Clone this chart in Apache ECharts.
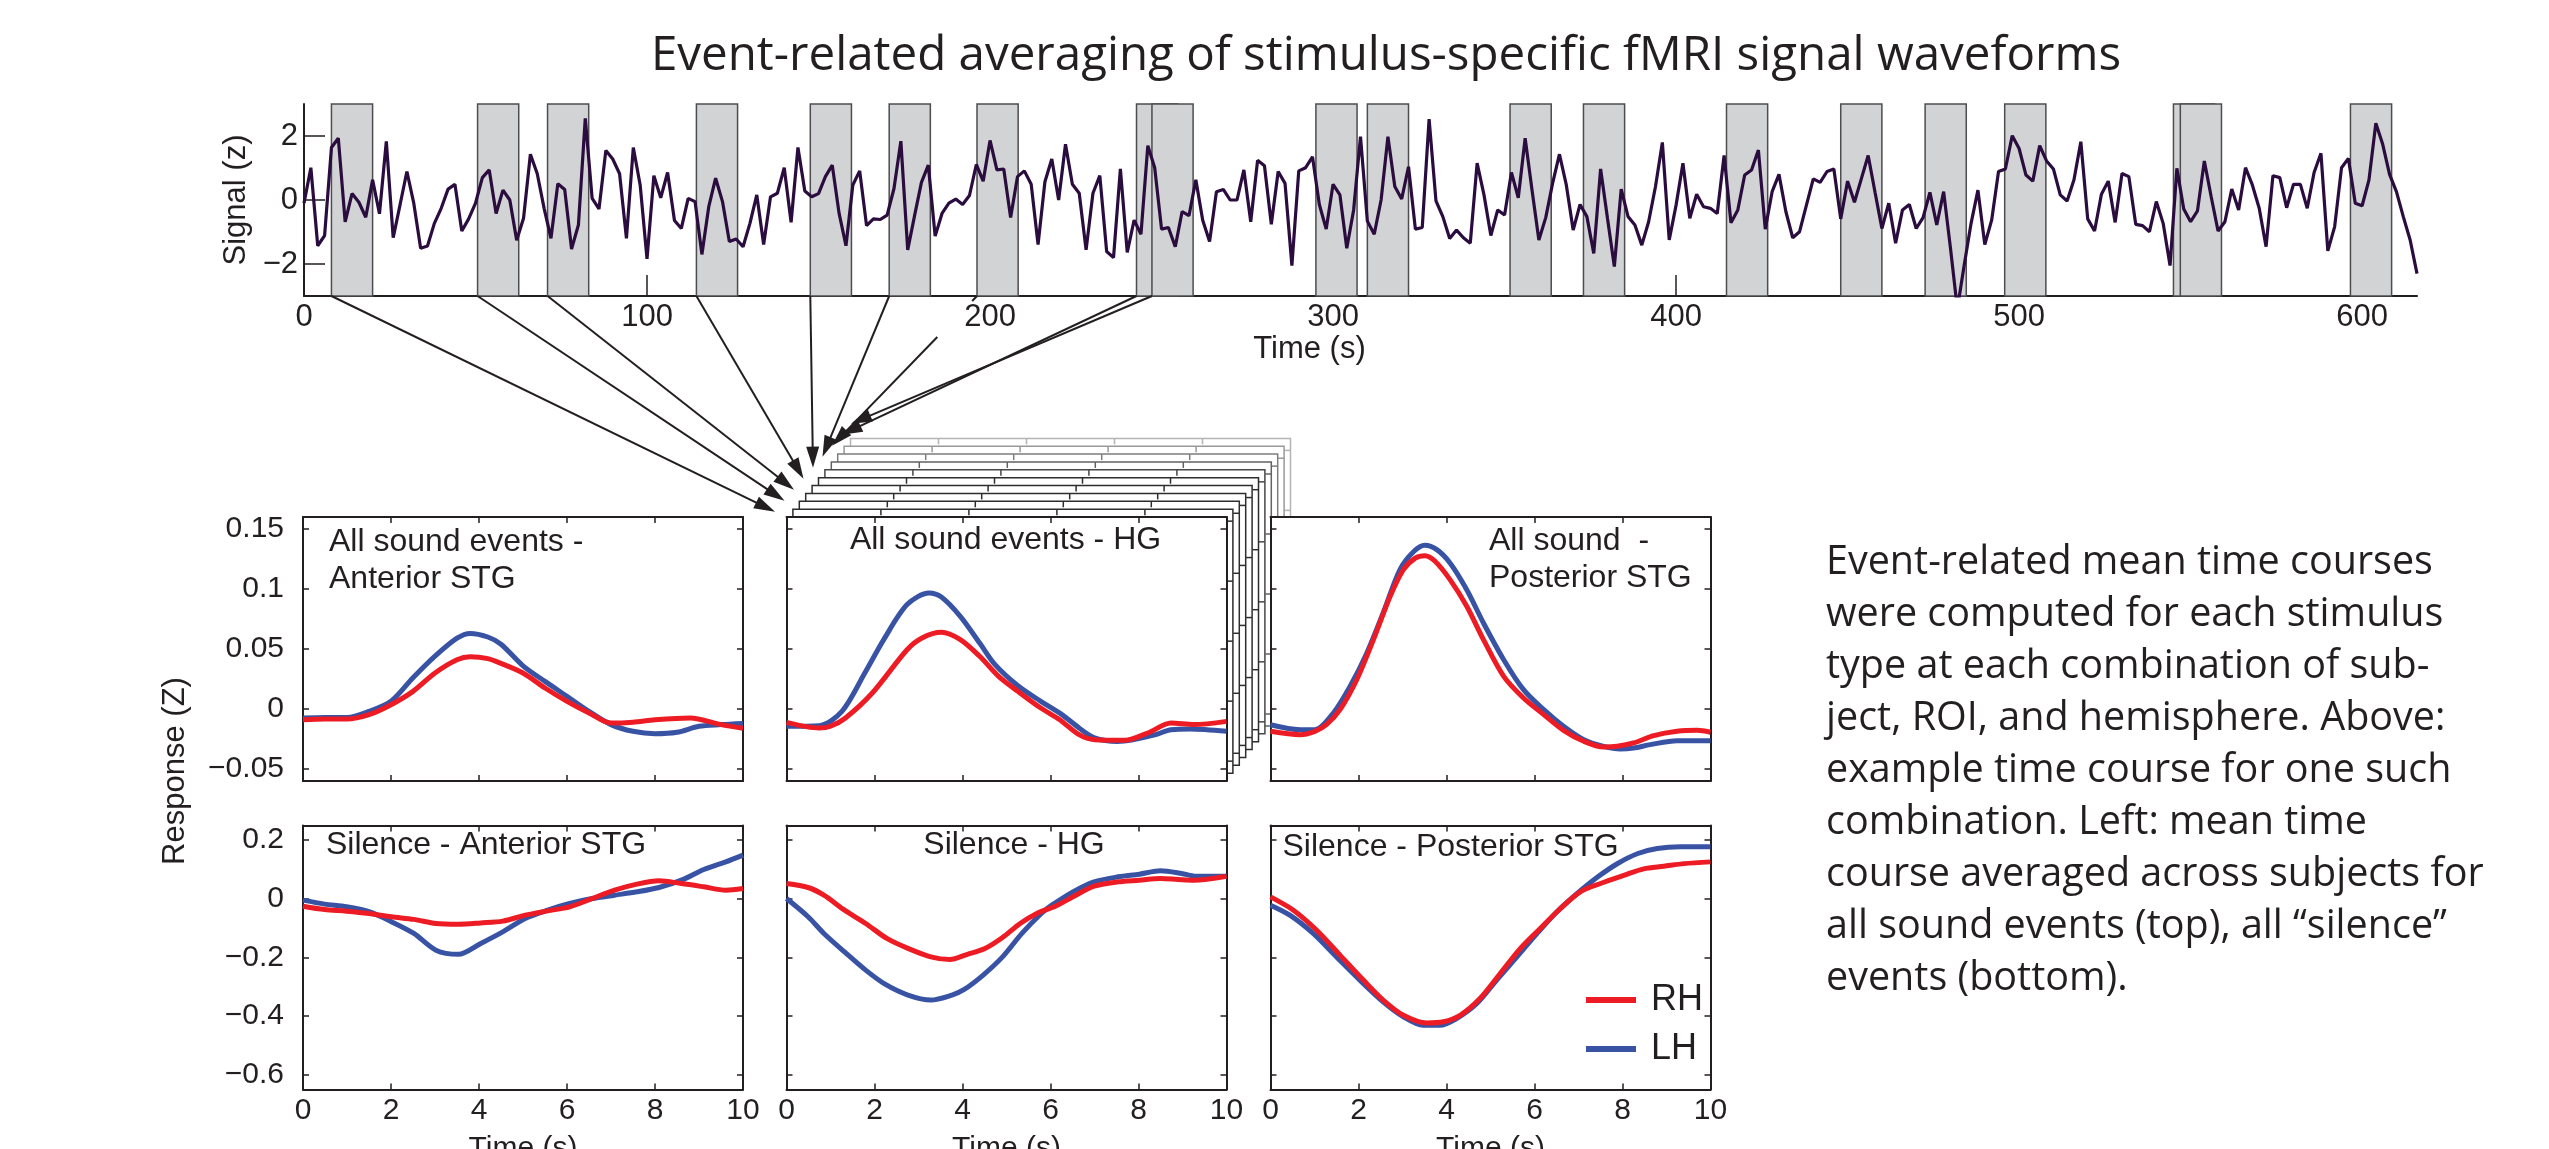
<!DOCTYPE html>
<html>
<head>
<meta charset="utf-8">
<title>Event-related averaging of stimulus-specific fMRI signal waveforms</title>
<script src="https://cdn.jsdelivr.net/npm/echarts@6/dist/echarts.min.js"></script>
<style>
html, body { margin: 0; padding: 0; background: #fff; }
#chart { width: 2549px; height: 1149px; }
</style>
</head>
<body>
<div id="chart"></div>
<script>
// ---- values ----
const TR = 2 // seconds between samples of the example time course
const signalZ = [
  -0.1, 1.01, -1.43, -1.11, 1.64, 1.93, -0.68, 0.2, -0.07, -0.54,
  0.63, -0.43, 1.83, -1.18, -0.15, 0.89, -0.1, -1.51, -1.44, -0.73,
  -0.26, 0.34, 0.49, -0.97, -0.59, -0.1, 0.7, 0.94, -0.42, 0.31,
  0, -1.26, -0.57, 1.43, 0.82, -0.26, -1.2, 0.51, 0.33, -1.53,
  -0.78, 2.55, 0.05, -0.28, 1.55, 1.28, 0.82, -1.2, 1.64, 0.47,
  -1.84, 0.76, 0.07, 0.86, -0.64, -0.89, 0.05, -0.05, -1.7, -0.21,
  0.68, -0.05, -1.3, -1.22, -1.46, -0.73, 0.16, -1.39, 0.1, 0.21,
  1.01, -0.7, 1.64, 0.28, 0.1, 0.2, 0.73, 1.09, -0.42, -1.43,
  0.47, 0.91, -0.8, -0.59, -0.61, -0.47, 0.36, 1.84, -1.56, -0.49,
  0.55, 1.09, -1.13, -0.42, -0.1, 0.03, -0.14, 0.14, 1.11, 0.59,
  1.86, 0.94, 0.97, -0.55, 0.73, 0.91, 0.49, -1.39, 0.57, 1.28,
  0, 1.74, 0.49, 0.21, -1.56, 0.21, 0.76, -1.61, -1.8, 0.97,
  -1.64, -0.63, -1.07, 1.7, 1.01, -0.91, -0.86, -1.46, -0.36, -0.49,
  0.63, -0.63, -1.3, 0.26, 0.33, 0, 0, 0.94, -0.68, 1.24,
  1.07, -0.76, 0.89, 0.52, -2.05, 0.91, 1.01, 1.35, -0.14, -0.91,
  0.49, 0.16, -1.51, -0.31, 1.98, -0.66, -1.07, 0, 1.98, 0.42,
  0.03, 1.04, -0.91, -0.86, 2.53, -0.03, -0.52, -1.2, -0.94, -1.18,
  -1.35, 1.15, 0.16, -1.11, -0.31, -0.47, 0.86, 0.07, 1.93, 0.31,
  -1.25, -0.55, 0.52, 1.43, 0.47, -0.94, -0.14, -0.52, -1.67, 0.97,
  -0.57, -2.08, 0.34, -0.52, -0.78, -1.41, -0.68, 0.42, 1.8, -1.25,
  -0.16, 1.15, -0.57, 0.18, -0.21, -0.26, -0.42, 1.39, -0.71, -0.31,
  0.78, 0.94, 1.56, -0.91, 0.26, 0.8, -0.36, -1.18, -0.99, -0.16,
  0.66, 0.55, 0.89, 0.97, -0.59, 0.59, -0.07, 0.66, 1.39, 0.24,
  -0.89, -0.1, -1.35, -0.31, -0.14, -0.89, -0.55, 0.24, -0.78, 0.26,
  -1.51, -3.4, -2.03, -0.73, 0.31, -1.39, -0.63, 0.89, 0.97, 2.01,
  1.61, 0.78, 0.59, 1.7, 1.22, 0.97, 0.16, -0.03, 0.63, 1.82,
  -0.59, -0.97, 0.18, 0.59, -0.7, 0.83, 0.73, -0.76, -0.8, -0.99,
  -0.05, -0.73, -2.05, 0.99, -0.28, -0.68, -0.34, 1.22, 0.1, -0.97,
  -0.68, 0.34, -0.31, 1.01, 0.47, -0.26, -1.46, 0.76, 0.7, -0.24,
  0.49, 0.49, -0.26, 0.86, 1.46, -1.59, -0.83, 1.01, 1.3, -0.1,
  -0.18, 0.63, 2.4, 1.74, 0.8, 0.26, -0.52, -1.25, -2.3
]
const eventOnsets = [8, 50.6, 71, 114.4, 147.6, 170.6, 196.2, 242.7, 247.2, 295,
  310, 351.6, 373, 414.7, 448, 472.6, 495.8, 545, 547, 596.6]
const eventLength = 12
const arrowedEvents = 9
const signalTimeTicks = [0, 100, 200, 300, 400, 500, 600]
const signalZTicks = [-2, 0, 2]

const soundTicks = [-0.05, 0, 0.05, 0.1, 0.15]
const silenceTicks = [-0.6, -0.4, -0.2, 0, 0.2]

// [time (s), response (Z)]
const sndAntLH = [[0, -0.0075], [0.5, -0.007], [1, -0.007], [1.5, -0.002], [2, 0.0064], [2.5, 0.026], [3, 0.044], [3.5, 0.059], [3.8, 0.063], [4.2, 0.06], [4.5, 0.054], [5, 0.036], [5.5, 0.023], [6, 0.0106], [6.5, -0.002], [7, -0.013], [7.5, -0.0186], [8, -0.0206], [8.5, -0.0194], [9, -0.0144], [9.5, -0.013], [10, -0.012]]
const sndAntRH = [[0, -0.009], [0.5, -0.0083], [1, -0.0083], [1.5, -0.0047], [2, 0.0036], [2.5, 0.0147], [3, 0.03], [3.5, 0.041], [3.8, 0.0435], [4.2, 0.042], [4.5, 0.038], [5, 0.03], [5.5, 0.0175], [6, 0.0064], [6.5, -0.0033], [7, -0.0117], [7.5, -0.011], [8, -0.009], [8.8, -0.0075], [9.5, -0.013], [10, -0.016]]
const sndHgLH = [[0, -0.0144], [0.74, -0.0139], [1.26, -0.002], [1.78, 0.03], [2.21, 0.0578], [2.74, 0.087], [3.24, 0.0967], [3.52, 0.0933], [3.95, 0.0772], [4.39, 0.055], [4.74, 0.037], [5.26, 0.0194], [5.78, 0.0064], [6.26, -0.0047], [6.65, -0.0158], [7, -0.024], [7.52, -0.027], [7.87, -0.0256], [8.39, -0.0214], [8.74, -0.0172], [9.17, -0.0167], [10, -0.0186]]
const sndHgRH = [[0, -0.0111], [0.74, -0.0158], [1, -0.0144], [1.34, -0.0075], [1.95, 0.0133], [2.74, 0.0494], [3.08, 0.0592], [3.52, 0.0639], [3.95, 0.0578], [4.39, 0.0439], [4.82, 0.0272], [5.26, 0.0147], [5.78, 0.0008], [6.21, -0.0089], [6.65, -0.0214], [7, -0.0256], [7.69, -0.0261], [8.21, -0.02], [8.74, -0.0117], [9.26, -0.013], [10, -0.0103]]
const sndPostLH = [[0, -0.0131], [0.67, -0.0172], [1.01, -0.0172], [1.43, -0.0033], [1.81, 0.0189], [2.19, 0.0467], [2.56, 0.08], [2.94, 0.116], [3.25, 0.131], [3.51, 0.1364], [3.78, 0.1328], [4.08, 0.1217], [4.46, 0.0994], [4.84, 0.0717], [5.3, 0.0411], [5.75, 0.0161], [6.21, -0.0006], [6.66, -0.0144], [7.12, -0.0256], [7.57, -0.0311], [7.95, -0.0333], [8.25, -0.0325], [8.63, -0.0297], [9.24, -0.0264], [10, -0.0264]]
const sndPostRH = [[0, -0.0186], [0.67, -0.0214], [1.01, -0.0186], [1.27, -0.0131], [1.58, -0.0006], [1.96, 0.0244], [2.34, 0.0578], [2.72, 0.0939], [3.02, 0.1161], [3.29, 0.1258], [3.51, 0.1278], [3.74, 0.1231], [4.08, 0.1078], [4.46, 0.0856], [4.84, 0.0578], [5.3, 0.0272], [5.75, 0.0092], [6.21, -0.0047], [6.66, -0.0178], [7.12, -0.0269], [7.57, -0.0317], [7.88, -0.0311], [8.25, -0.0283], [8.71, -0.0222], [9.24, -0.0186], [9.7, -0.0178], [10, -0.0194]]
const silAntLH = [[0, -0.0045], [0.49, -0.018], [0.99, -0.027], [1.5, -0.044], [2.01, -0.078], [2.52, -0.118], [3.02, -0.175], [3.53, -0.189], [4.04, -0.152], [4.54, -0.1125], [5.05, -0.067], [5.56, -0.0386], [6.06, -0.016], [6.57, 0.001], [7.08, 0.0125], [7.59, 0.0239], [8.09, 0.0386], [8.6, 0.0636], [9.11, 0.1], [9.61, 0.126], [10, 0.149]]
const silAntRH = [[0, -0.025], [0.49, -0.0364], [0.99, -0.042], [1.5, -0.05], [2.01, -0.0614], [2.52, -0.07], [3.02, -0.084], [3.53, -0.0864], [4.04, -0.082], [4.54, -0.076], [5.05, -0.0557], [5.56, -0.041], [6.06, -0.0273], [6.57, 0.001], [7.08, 0.0295], [7.59, 0.05], [8.09, 0.0614], [8.6, 0.052], [9.11, 0.0409], [9.61, 0.0295], [10, 0.035]]
const silHgLH = [[0, 0.001], [0.49, -0.061], [0.85, -0.118], [1.32, -0.181], [1.8, -0.243], [2.24, -0.291], [2.76, -0.328], [3.28, -0.345], [3.76, -0.328], [4.04, -0.309], [4.47, -0.26], [4.91, -0.198], [5.35, -0.118], [5.79, -0.05], [6.03, -0.0216], [6.51, 0.0239], [6.99, 0.058], [7.54, 0.075], [8.02, 0.084], [8.5, 0.0955], [8.98, 0.0864], [9.3, 0.077], [10, 0.077]]
const silHgRH = [[0, 0.052], [0.49, 0.0386], [0.85, 0.0125], [1.32, -0.0386], [1.8, -0.084], [2.28, -0.135], [2.76, -0.169], [3.28, -0.198], [3.71, -0.207], [4.11, -0.189], [4.51, -0.1696], [4.91, -0.132], [5.31, -0.084], [5.71, -0.048], [6.11, -0.025], [6.51, 0.0068], [6.99, 0.0432], [7.54, 0.058], [8.02, 0.0636], [8.5, 0.0693], [8.9, 0.066], [9.26, 0.0636], [10, 0.077]]
const silPostLH = [[0, -0.0216], [0.44, -0.0557], [0.97, -0.118], [1.5, -0.198], [2.03, -0.277], [2.56, -0.351], [3.02, -0.402], [3.47, -0.431], [3.85, -0.431], [4.23, -0.408], [4.69, -0.357], [5.14, -0.277], [5.6, -0.198], [6.06, -0.118], [6.51, -0.0443], [6.97, 0.0182], [7.44, 0.075], [7.89, 0.1205], [8.35, 0.1545], [8.79, 0.1716], [9.32, 0.1773], [10, 0.1773]]
const silPostRH = [[0, 0.0068], [0.52, -0.0386], [1.05, -0.107], [1.58, -0.192], [2.11, -0.277], [2.56, -0.345], [3.02, -0.397], [3.55, -0.423], [3.93, -0.419], [4.31, -0.397], [4.76, -0.34], [5.22, -0.2545], [5.68, -0.169], [6.13, -0.101], [6.59, -0.033], [7.04, 0.0239], [7.5, 0.0523], [8.03, 0.08], [8.48, 0.1023], [8.94, 0.111], [9.4, 0.12], [10, 0.126]]

const captionLines = [
  'Event-related mean time courses',
  'were computed for each stimulus',
  'type at each combination of sub-',
  'ject, ROI, and hemisphere. Above:',
  'example time course for one such',
  'combination. Left: mean time',
  'course averaged across subjects for',
  'all sound events (top), all \u201csilence\u201d',
  'events (bottom).'
]

// ---- look ----
const FONT = '"Liberation Sans", Arial, sans-serif'
const PROSE = '"Open Sans", sans-serif'
const INK = '#231f20'
const RED = '#ed1c24'
const BLUE = '#3953a4'
const PURPLE = '#2b0c3e'

const panelLeft = [303, 786.5, 1270.5]
const rowTop = [517, 825.5]
const panelW = 440
const panelH = 264
const rowY = [
  { min: -0.06, max: 0.16, ticks: soundTicks },
  { min: -0.65, max: 0.25, ticks: silenceTicks }
]
const panels = [
  { row: 0, col: 0, rh: sndAntRH, lh: sndAntLH, title: ['All sound events -', 'Anterior STG'], tx: 26, ty: 25, align: 'left' },
  { row: 0, col: 1, rh: sndHgRH, lh: sndHgLH, title: ['All sound events - HG'], tx: 219, ty: 23, align: 'center' },
  { row: 0, col: 2, rh: sndPostRH, lh: sndPostLH, title: ['All sound  -', 'Posterior STG'], tx: 218.5, ty: 24, align: 'left' },
  { row: 1, col: 0, rh: silAntRH, lh: silAntLH, title: ['Silence - Anterior STG'], tx: 23, ty: 20, align: 'left' },
  { row: 1, col: 1, rh: silHgRH, lh: silHgLH, title: ['Silence - HG'], tx: 227.5, ty: 20, align: 'center' },
  { row: 1, col: 2, rh: silPostRH, lh: silPostLH, title: ['Silence - Posterior STG'], tx: 12, ty: 22, align: 'left' }
]
const stackDepth = 10
const stackStep = [6.4, -7.86]

function fmtTick(v) {
  const s = String(Math.round(v * 100) / 100)
  return s.charAt(0) === '-' ? '\u2212' + s.slice(1) : s
}

const chart = echarts.init(document.getElementById('chart'))

const grids = [{ left: 304, top: 104, width: 2113, height: 192, show: false, outerBoundsMode: 'none' }]
const xAxes = [{
  gridIndex: 0,
  type: 'value',
  min: 0,
  max: 616,
  position: 'bottom',
  axisLine: { onZero: false, lineStyle: { color: INK, width: 2 } },
  axisTick: { inside: true, length: 21, customValues: signalTimeTicks, lineStyle: { color: INK, width: 1.5 } },
  axisLabel: { customValues: signalTimeTicks, fontFamily: FONT, fontSize: 31, color: INK, margin: 6 },
  splitLine: { show: false },
  name: 'Time (s)',
  nameLocation: 'middle',
  nameGap: 38,
  nameTextStyle: { fontFamily: FONT, fontSize: 31, color: INK, padding: [0, 102, 0, 0] }
}]
const yAxes = [{
  gridIndex: 0,
  type: 'value',
  min: -3,
  max: 3,
  position: 'left',
  axisLine: { onZero: false, lineStyle: { color: INK, width: 2 } },
  axisTick: { inside: true, length: 21, customValues: signalZTicks, lineStyle: { color: INK, width: 1.5 } },
  axisLabel: { customValues: signalZTicks, formatter: fmtTick, fontFamily: FONT, fontSize: 31, color: INK, margin: 6 },
  splitLine: { show: false },
  name: 'Signal (z)',
  nameLocation: 'middle',
  nameGap: 50,
  nameTextStyle: { fontFamily: FONT, fontSize: 31, color: INK }
}]
const series = [{
  type: 'line',
  name: 'Signal',
  xAxisIndex: 0,
  yAxisIndex: 0,
  data: signalZ.map((v, i) => [i * TR, v]),
  showSymbol: false,
  clip: true,
  lineStyle: { color: PURPLE, width: 3.2 },
  itemStyle: { color: PURPLE },
  markArea: {
    silent: true,
    itemStyle: { color: '#d1d3d4', borderColor: '#4d4d4f', borderWidth: 1.5 },
    data: eventOnsets.map(s => [{ xAxis: s }, { xAxis: s + eventLength }])
  }
}]

const tick = { inside: true, length: 6, lineStyle: { color: INK, width: 1.5 } }
const line = { onZero: false, lineStyle: { color: INK, width: 2 } }

panels.forEach((p, i) => {
  const g = i + 1
  const bottomRow = p.row === 1
  const leftCol = p.col === 0
  const ry = rowY[p.row]
  grids.push({ left: panelLeft[p.col], top: rowTop[p.row], width: panelW, height: panelH, show: true, backgroundColor: '#fff', borderWidth: 0, outerBoundsMode: 'none' })
  xAxes.push({
    gridIndex: g, type: 'value', min: 0, max: 10, interval: 2, position: 'bottom',
    axisLine: line, axisTick: tick, splitLine: { show: false },
    axisLabel: { show: bottomRow, fontFamily: FONT, fontSize: 30, color: INK, margin: 6 },
    name: bottomRow ? 'Time (s)' : '', nameLocation: 'middle', nameGap: 44,
    nameTextStyle: { fontFamily: FONT, fontSize: 30, color: INK }
  })
  xAxes.push({
    gridIndex: g, type: 'value', min: 0, max: 10, interval: 2, position: 'top',
    axisLine: line, axisTick: tick, splitLine: { show: false }, axisLabel: { show: false }
  })
  yAxes.push({
    gridIndex: g, type: 'value', min: ry.min, max: ry.max, position: 'left',
    axisLine: line, axisTick: Object.assign({ customValues: ry.ticks }, tick), splitLine: { show: false },
    axisLabel: { show: leftCol, customValues: ry.ticks, formatter: fmtTick, fontFamily: FONT, fontSize: 30, color: INK, margin: 19 }
  })
  yAxes.push({
    gridIndex: g, type: 'value', min: ry.min, max: ry.max, position: 'right',
    axisLine: line, axisTick: Object.assign({ customValues: ry.ticks }, tick), splitLine: { show: false },
    axisLabel: { show: false, customValues: ry.ticks }
  })
  const common = { type: 'line', xAxisIndex: 1 + 2 * i, yAxisIndex: 1 + 2 * i, showSymbol: false, smooth: 0.3, z: 3 }
  series.push(Object.assign({ name: 'LH', data: p.lh, color: BLUE, itemStyle: { color: BLUE }, lineStyle: { color: BLUE, width: 5 } }, common))
  series.push(Object.assign({ name: 'RH', data: p.rh, color: RED, itemStyle: { color: RED }, lineStyle: { color: RED, width: 5 } }, common))
})

chart.setOption({
  animation: false,
  backgroundColor: '#fff',
  grid: grids,
  xAxis: xAxes,
  yAxis: yAxes,
  series: series,
  legend: {
    data: ['RH', 'LH'],
    orient: 'vertical',
    left: 1581,
    top: 975,
    itemWidth: 50,
    itemHeight: 6,
    itemGap: 9,
    icon: 'rect',
    selectedMode: false,
    textStyle: { fontFamily: FONT, fontSize: 36, color: INK, lineHeight: 40, padding: [0, 0, 0, 10] }
  }
})

// ---- annotations placed from the laid-out axes ----
const graphic = []
const front = { xAxisIndex: 3, yAxisIndex: 3 } // the "All sound events - HG" panel
const corner = chart.convertToPixel(front, [0, rowY[0].max])
const far = chart.convertToPixel(front, [10, rowY[0].min])
const w = far[0] - corner[0]
const h = far[1] - corner[1]

// stack of per-event panels behind the HG panel
for (let k = stackDepth; k >= 1; k--) {
  const dx = stackStep[0] * k
  const dy = stackStep[1] * k
  const lvl = k <= 5 ? 45 : 45 + (k - 5) * 27
  const col = 'rgb(' + lvl + ',' + lvl + ',' + lvl + ')'
  graphic.push({
    type: 'rect', silent: true, z: -2 * k,
    shape: { x: corner[0] + dx, y: corner[1] + dy, width: w, height: h },
    style: { fill: '#fff', stroke: col, lineWidth: 1.5 }
  })
  ;[2, 4, 6, 8].forEach(t => {
    const p = chart.convertToPixel(front, [t, rowY[0].max])
    graphic.push({
      type: 'line', silent: true, z: -2 * k + 1,
      shape: { x1: p[0] + dx, y1: p[1] + dy, x2: p[0] + dx, y2: p[1] + dy + 6 },
      style: { stroke: col, lineWidth: 1.5 }
    })
  })
  rowY[0].ticks.forEach(v => {
    const p = chart.convertToPixel(front, [10, v])
    graphic.push({
      type: 'line', silent: true, z: -2 * k + 1,
      shape: { x1: p[0] + dx, y1: p[1] + dy, x2: p[0] + dx - 6, y2: p[1] + dy },
      style: { stroke: col, lineWidth: 1.5 }
    })
  })
}

// arrows from the first events down into the stack
eventOnsets.slice(0, arrowedEvents).forEach((s, i) => {
  const a = chart.convertToPixel({ xAxisIndex: 0, yAxisIndex: 0 }, [s, -3])
  const tip = [corner[0] - 11.5 + 9.5 * i, corner[1] - 5.3 - 11 * i]
  const vx = tip[0] - a[0]
  const vy = tip[1] - a[1]
  const len = Math.sqrt(vx * vx + vy * vy)
  const ux = vx / len
  const uy = vy / len
  const L = 21
  const W = 6.5
  const end = [tip[0] - ux * L * 0.8, tip[1] - uy * L * 0.8]
  let start = a
  if (i === 6) {
    // this one is broken just under the axis in the original
    const f = 41 / vy
    graphic.push({ type: 'line', silent: true, z: 10, shape: { x1: a[0], y1: a[1], x2: a[0] + vx * 5 / vy, y2: a[1] + 5 }, style: { stroke: INK, lineWidth: 2 } })
    start = [a[0] + vx * f, a[1] + vy * f]
  }
  graphic.push({
    type: 'line', silent: true, z: 10,
    shape: { x1: start[0], y1: start[1], x2: end[0], y2: end[1] },
    style: { stroke: INK, lineWidth: 2 }
  })
  graphic.push({
    type: 'polygon', silent: true, z: 10,
    shape: { points: [tip, [tip[0] - ux * L - uy * W, tip[1] - uy * L + ux * W], [tip[0] - ux * L + uy * W, tip[1] - uy * L - ux * W]] },
    style: { fill: INK }
  })
})

// panel titles
panels.forEach(p => {
  p.title.forEach((t, j) => {
    graphic.push({
      type: 'text', silent: true, z: 10,
      style: {
        text: t, x: panelLeft[p.col] + p.tx, y: rowTop[p.row] + p.ty + 37 * j,
        font: '32px ' + FONT, fill: INK,
        textAlign: p.align, align: p.align, textVerticalAlign: 'middle', verticalAlign: 'middle'
      }
    })
  })
})

graphic.push({
  type: 'text', silent: true, z: 10, x: 175, y: 771, rotation: Math.PI / 2,
  style: { text: 'Response (Z)', x: 0, y: 0, font: '31px ' + FONT, fill: INK, textAlign: 'center', align: 'center', textVerticalAlign: 'middle', verticalAlign: 'middle' }
})
graphic.push({
  type: 'text', silent: true, z: 10,
  style: { text: 'Event-related averaging of stimulus-specific fMRI signal waveforms', x: 1386, y: 56, font: '47.5px ' + PROSE, fill: INK, textAlign: 'center', align: 'center', textVerticalAlign: 'middle', verticalAlign: 'middle' }
})
graphic.push({
  type: 'text', silent: true, z: 10,
  style: { text: captionLines.join('\n'), x: 1826, y: 537, font: '39.5px ' + PROSE, lineHeight: 52, fill: INK, textAlign: 'left', align: 'left', textVerticalAlign: 'top', verticalAlign: 'top' }
})

chart.setOption({ graphic: graphic })
</script>
</body>
</html>
